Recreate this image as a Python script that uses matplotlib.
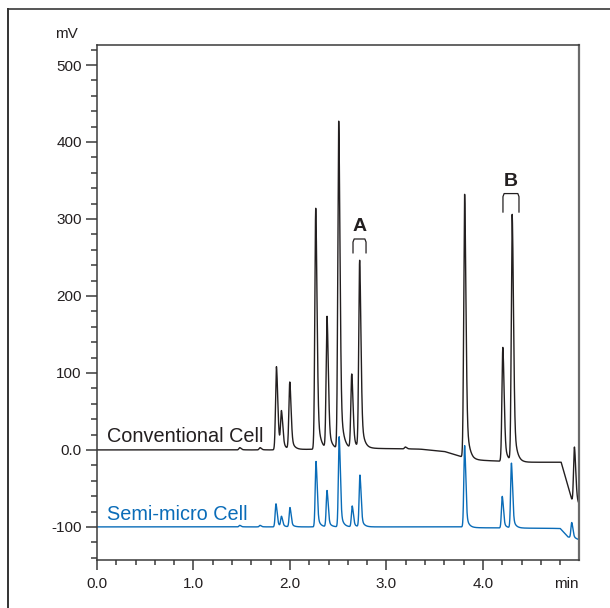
import numpy as np
import matplotlib
matplotlib.use("Agg")
import matplotlib.pyplot as plt
from matplotlib.lines import Line2D
from matplotlib.ticker import MultipleLocator, FixedLocator

plt.rcParams['font.family'] = ['Liberation Sans', 'DejaVu Sans']

# peak tables (retention time in min, height in mV above local baseline)
conv_times = [1.48, 1.69, 1.860, 1.912, 1.998, 2.267, 2.384, 2.505, 2.640, 2.722, 3.196,
              3.810, 4.206, 4.303, 4.948]
conv_heights = [3, 3, 108, 46, 87, 313, 171, 425, 96, 243, 2.5, 342, 148, 320, 74]
conv_base_t = [0.0, 1.8, 2.85, 3.35, 3.6, 3.78, 3.9, 4.4, 4.81, 4.93, 5.0]
conv_base_v = [0.0, 0.0, 2.0, 1.0, -2.0, -9.0, -13.0, -16.0, -16.0, -69.0, -74.0]

semi_times = [1.48, 1.69, 1.855, 1.912, 2.000, 2.270, 2.384, 2.510, 2.645, 2.725,
              3.810, 4.200, 4.295, 4.920]
semi_heights = [2, 2, 30, 13, 25, 85, 47, 117, 27, 67, 106, 41, 84, 20]
semi_base_t = [0.0, 3.78, 3.85, 4.8, 4.88, 5.0]
semi_base_v = [-100.0, -100.0, -101.0, -102.0, -113.0, -117.0]

y_major = [-100, 0, 100, 200, 300, 400, 500]
y_labels = ['-100', '0.0', '100', '200', '300', '400', '500']
x_major = [0, 1, 2, 3, 4]
x_labels = ['0.0', '1.0', '2.0', '3.0', '4.0']

black = '#231f20'
blue = '#0a6cb8'

t = np.arange(0, 4.992, 0.0005)


def trace(times, heights, base_t, base_v, sig):
    y = np.interp(t, base_t, base_v)
    for t0, h in zip(times, heights):
        d = t - t0
        left = np.exp(-0.5 * (d / sig) ** 2)
        right = 0.72 * np.exp(-0.5 * (d / (1.4 * sig)) ** 2) + 0.28 * np.exp(-np.clip(d, 0, None) / (3.0 * sig))
        y += h * np.where(d < 0, left, right)
    return y


conv = trace(conv_times, conv_heights, conv_base_t, conv_base_v, 0.0095)
semi = trace(semi_times, semi_heights, semi_base_t, semi_base_v, 0.0085)

fig = plt.figure(figsize=(6.1, 6.08), dpi=100)
ax = fig.add_axes([97 / 610, 1 - 560 / 608, 482 / 610, 515 / 608])

ax.plot(t, semi, color=blue, lw=1.0)
ax.plot(t, conv, color=black, lw=1.0)

ax.set_xlim(0, 4.995)
ax.set_ylim(-143, 526)

ax.xaxis.set_major_locator(FixedLocator(x_major))
ax.set_xticklabels(x_labels)
ax.xaxis.set_minor_locator(MultipleLocator(0.2))
ax.yaxis.set_major_locator(FixedLocator(y_major))
ax.set_yticklabels(y_labels)
ax.yaxis.set_minor_locator(MultipleLocator(20))

ax.tick_params(axis='both', which='both', direction='out', colors='#3a3a3a',
               labelcolor=black, labelsize=11, width=1.1)
ax.tick_params(axis='x', which='major', length=7, pad=5)
ax.tick_params(axis='x', which='minor', length=3.5)
ax.tick_params(axis='y', which='major', length=8, pad=3)
ax.tick_params(axis='y', which='minor', length=4.3)

for side in ['left', 'bottom', 'top']:
    ax.spines[side].set_color('#3a3a3a')
    ax.spines[side].set_linewidth(1.1)
ax.spines['right'].set_color('#6a6a6a')
ax.spines['right'].set_linewidth(1.6)

ax.text(-0.04, 1.008, 'mV', transform=ax.transAxes, ha='right', va='bottom',
        fontsize=11, color=black)
ax.text(1.0, -0.033, 'min', transform=ax.transAxes, ha='right', va='top',
        fontsize=11, color=black)

ax.text(0.10, 10, 'Conventional Cell', color=black, fontsize=14.3, va='baseline')
ax.text(0.10, -91, 'Semi-micro Cell', color=blue, fontsize=14.3, va='baseline')

# peak group markers
marks = [('A', 2.72, 2.653, 2.788, 274, 256), ('B', 4.29, 4.207, 4.373, 333, 309)]
for lab, xc, x0, x1, ytop, ybot in marks:
    c = 0.012
    ax.plot([x0, x0, x0 + c, x1 - c, x1, x1],
            [ybot, ytop - 4, ytop, ytop, ytop - 4, ybot], color=black, lw=0.9)
    ax.text(xc, ytop + 5, lab, ha='center', va='bottom', fontsize=14,
            fontweight='bold', color=black)

# outer frame of the figure panel
fig.add_artist(Line2D([8 / 610, 1.0], [1 - 9 / 608, 1 - 9 / 608], color='#555555', lw=1.4))
fig.add_artist(Line2D([8 / 610, 8 / 610], [0.0, 1 - 9 / 608], color='#333333', lw=1.4))

fig.savefig('out.png', dpi=100)
